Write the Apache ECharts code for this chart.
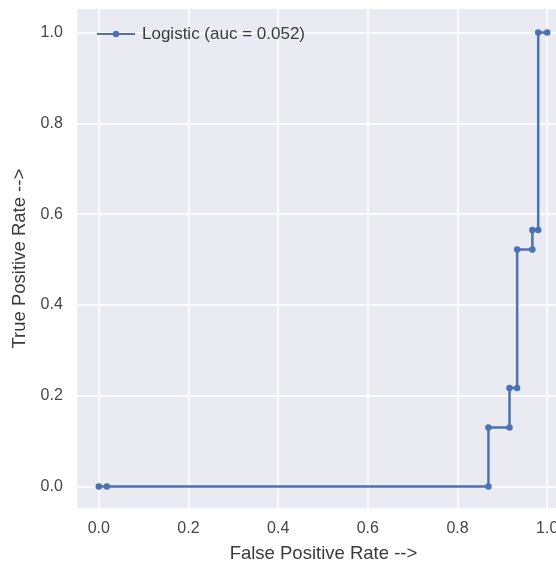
<!DOCTYPE html>
<html>
<head>
<meta charset="utf-8">
<script src="https://cdn.jsdelivr.net/npm/echarts@6/dist/echarts.min.js"></script>
<style>html,body{margin:0;padding:0;background:#fff;}#c{width:556px;height:565px;}</style>
</head>
<body>
<div id="c"></div>
<script>
var seriesName = 'Logistic (auc = 0.052)';
var fpr = [0.0, 0.018, 0.869, 0.869, 0.916, 0.916, 0.933, 0.933, 0.967, 0.967, 0.980, 0.980, 1.0];
var tpr = [0.0, 0.0, 0.0, 0.130, 0.130, 0.217, 0.217, 0.522, 0.522, 0.565, 0.565, 1.0, 1.0];
var tickValues = [0.0, 0.2, 0.4, 0.6, 0.8, 1.0];
var xTitle = 'False Positive Rate -->';
var yTitle = 'True Positive Rate -->';

var points = fpr.map(function (v, i) { return [v, tpr[i]]; });
var font = 'Liberation Sans, Arial, sans-serif';
function fmt(v) { return Number(v).toFixed(1); }

var chart = echarts.init(document.getElementById('c'), null, {renderer: 'canvas'});
chart.setOption({
  animation: false,
  backgroundColor: '#ffffff',
  grid: {
    left: 77.3, top: 9, width: 492.3, height: 499.3,
    outerBoundsMode: 'none', containLabel: false,
    show: true, backgroundColor: '#eaeaf2', borderWidth: 0
  },
  legend: {
    left: 91, top: 20.5, itemWidth: 38, itemHeight: 8,
    data: [seriesName],
    textStyle: {fontFamily: font, fontSize: 17, color: '#3a3a3a', padding: [0, 0, 0, 2]}
  },
  xAxis: {
    type: 'value', min: -0.048, max: 1.05,
    name: xTitle, nameLocation: 'middle', nameGap: 36,
    nameTextStyle: {fontFamily: font, fontSize: 18.5, color: '#3a3a3a'},
    axisLine: {show: false}, 
    axisTick: {show: false, customValues: tickValues},
    axisLabel: {customValues: tickValues, formatter: fmt, margin: 12,
      fontFamily: font, fontSize: 16, color: '#464646'},
    splitLine: {show: true, lineStyle: {color: '#ffffff', width: 1.5}}
  },
  yAxis: {
    type: 'value', min: -0.048, max: 1.052,
    name: yTitle, nameLocation: 'middle', nameGap: 45, nameRotate: 90,
    nameTextStyle: {fontFamily: font, fontSize: 18.5, color: '#3a3a3a'},
    axisLine: {show: false},
    axisTick: {show: false, customValues: tickValues},
    axisLabel: {customValues: tickValues, formatter: fmt, margin: 14.5,
      fontFamily: font, fontSize: 16, color: '#464646'},
    splitLine: {show: true, lineStyle: {color: '#ffffff', width: 1.5}}
  },
  series: [{
    name: seriesName,
    type: 'line',
    data: points,
    symbol: 'circle', symbolSize: 6.5, showAllSymbol: true,
    itemStyle: {color: '#4c72b0'},
    lineStyle: {color: '#4c72b0', width: 2.5}
  }]
});
</script>
</body>
</html>
